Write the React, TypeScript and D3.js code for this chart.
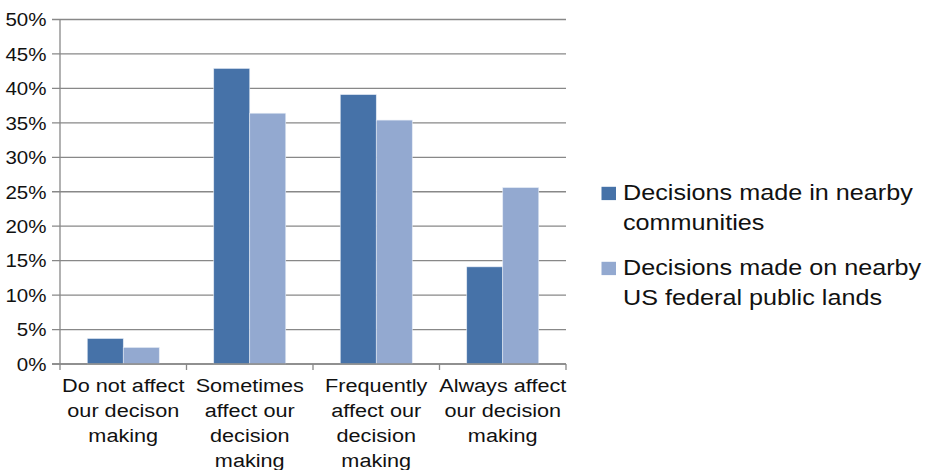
import React from 'react'
import * as d3 from 'd3'

const categories = [
  ['Do not affect', 'our decison', 'making'],
  ['Sometimes', 'affect our', 'decision', 'making'],
  ['Frequently', 'affect our', 'decision', 'making'],
  ['Always affect', 'our decision', 'making'],
]

const seriesNames = [
  ['Decisions made in nearby', 'communities'],
  ['Decisions made on nearby', 'US federal public lands'],
]

const nearbyCommunities = [0.037, 0.429, 0.391, 0.141]
const federalLands = [0.024, 0.364, 0.354, 0.256]

const yTicks = [0, 0.05, 0.1, 0.15, 0.2, 0.25, 0.3, 0.35, 0.4, 0.45, 0.5]

const COLORS = ['#4672a8', '#93a9d0']
const FONT = '"Liberation Sans", Arial, Helvetica, sans-serif'

export default function App() {
  const width = 935
  const height = 470
  const left = 60
  const right = 566
  const top = 19.5
  const bottom = 364

  const series = [nearbyCommunities, federalLands]
  const catIdx = categories.map((_, i) => i)

  const x = d3.scaleBand<number>().domain(catIdx).range([left, right]).paddingInner(0).paddingOuter(0)
  const xs = d3.scaleBand<number>().domain([0, 1]).range([0, x.bandwidth()]).paddingInner(0).paddingOuter(0.757)
  const y = d3.scaleLinear().domain([0, 0.5]).range([bottom, top])
  const fmt = d3.format('.0%')

  const boundaries = catIdx.map(i => x(i) as number).concat([right])

  return (
    <svg width={width} height={height} style={{ position: 'absolute', left: 0, top: 0, background: '#fff' }}>
      {/* gridlines + y ticks */}
      {yTicks.map(t => (
        <line key={'g' + t} x1={left - 8} x2={right} y1={y(t)} y2={y(t)} stroke="#888" strokeWidth={1.3} />
      ))}
      {yTicks.map(t => (
        <text
          key={'t' + t}
          transform={`translate(46.5,${y(t) + 6.8}) scale(1.08,1)`}
          textAnchor="end"
          fontFamily={FONT}
          fontSize={19}
          fill="#111"
        >
          {fmt(t)}
        </text>
      ))}

      {/* bars */}
      {series.map((vals, s) =>
        vals.map((v, i) => (
          <rect
            key={`b${s}-${i}`}
            x={(x(i) as number) + (xs(s) as number)}
            y={y(v)}
            width={xs.bandwidth()}
            height={bottom - y(v)}
            fill={COLORS[s]}
            stroke="#e4ebf5"
            strokeWidth={0.6}
          />
        ))
      )}

      {/* axes */}
      <line x1={left} x2={left} y1={top} y2={bottom} stroke="#888" strokeWidth={1.3} />
      <line x1={left - 8} x2={right} y1={bottom} y2={bottom} stroke="#888" strokeWidth={1.3} />
      {boundaries.map((b, i) => (
        <line key={'xt' + i} x1={b} x2={b} y1={bottom} y2={bottom + 6} stroke="#888" strokeWidth={1.3} />
      ))}

      {/* category labels */}
      {categories.map((lines, i) =>
        lines.map((ln, j) => (
          <text
            key={`c${i}-${j}`}
            transform={`translate(${(x(i) as number) + x.bandwidth() / 2},${392.3 + j * 25}) scale(1.14,1)`}
            textAnchor="middle"
            fontFamily={FONT}
            fontSize={19}
            fill="#111"
          >
            {ln}
          </text>
        ))
      )}

      {/* legend */}
      {seriesNames.map((lines, s) => (
        <g key={'l' + s} transform={`translate(0,${s * 75})`}>
          <rect x={601.5} y={186.8} width={14.5} height={13.3} fill={COLORS[s]} />
          {lines.map((ln, j) => (
            <text
              key={j}
              transform={`translate(623,${200 + j * 30}) scale(1.12,1)`}
              fontFamily={FONT}
              fontSize={22.5}
              fill="#111"
            >
              {ln}
            </text>
          ))}
        </g>
      ))}
    </svg>
  )
}
